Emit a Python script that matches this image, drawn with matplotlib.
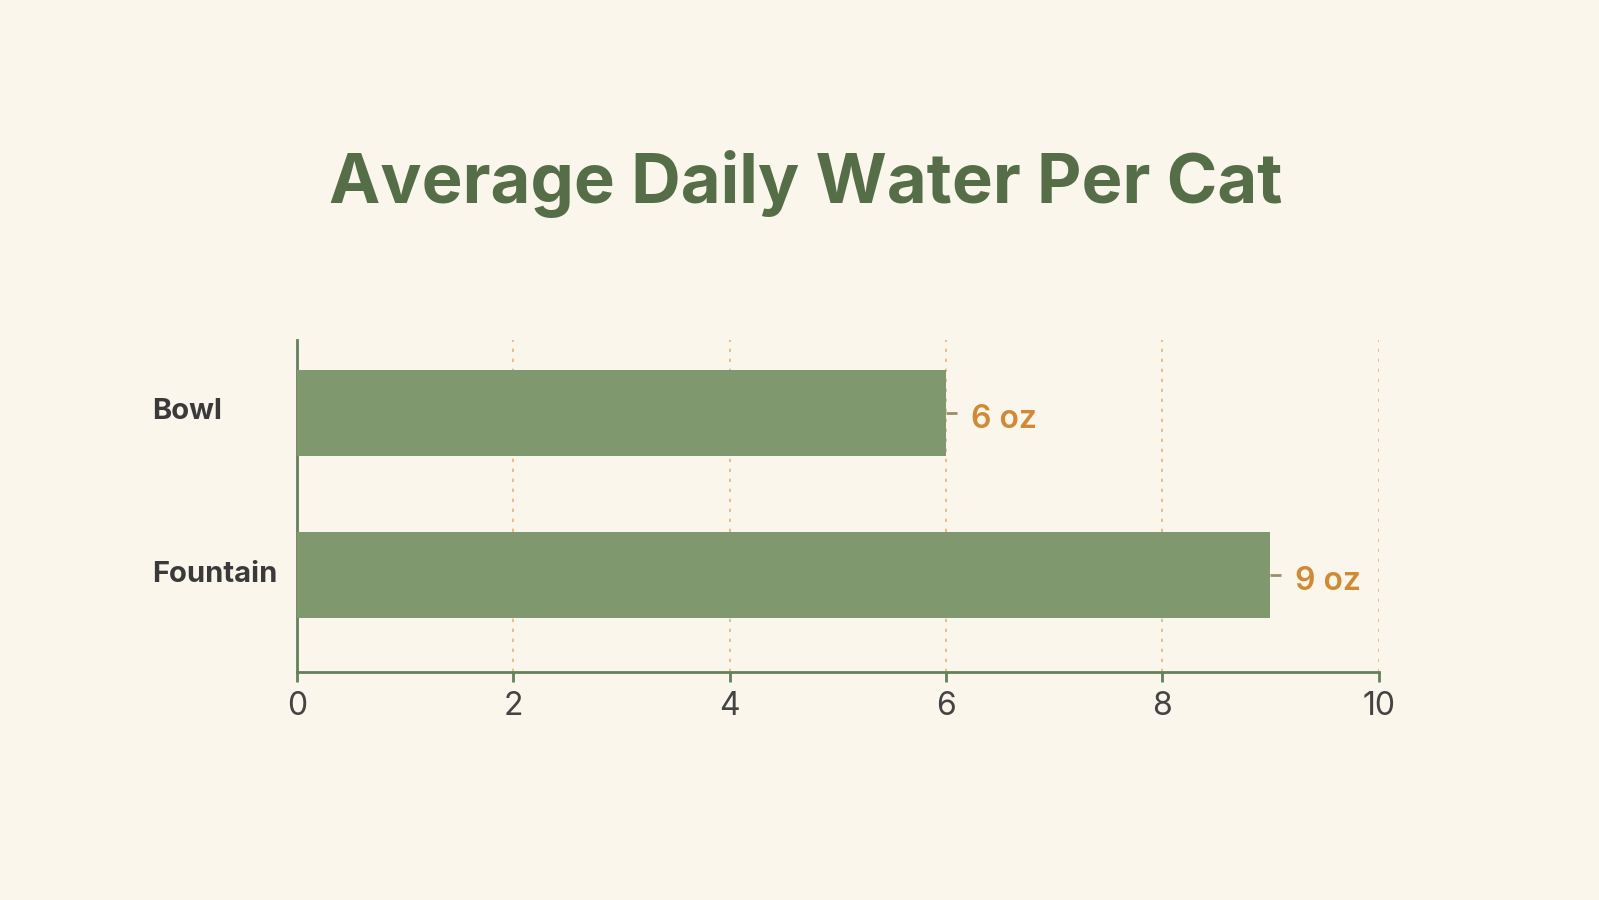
import matplotlib.pyplot as plt
from matplotlib.transforms import ScaledTranslation

categories = ["Bowl", "Fountain"]
values = [6, 9]
value_labels = ["6 oz", "9 oz"]
x_ticks = [0, 2, 4, 6, 8, 10]

bg = "#FBF6EC"
bar_color = "#7F986E"
green_dark = "#566E48"
spine_color = "#64805A"
value_color = "#D08A35"

plt.rcParams['font.family'] = ['Inter', 'DejaVu Sans']

fig = plt.figure(figsize=(15.99, 9), dpi=100, facecolor=bg)
ax = fig.add_axes([0.1856, 0.2528, 0.6766, 0.3696], facecolor=bg)

y = list(range(len(categories)))
ax.barh(y, values, height=0.53, color=bar_color, zorder=3)

# value labels with small connector
for yi, v, lab in zip(y, values, value_labels):
    ax.plot([v, v + 0.1], [yi, yi], color="#9A8E6A", lw=2, zorder=3,
            solid_capstyle='butt')
    ax.text(v + 0.23, yi + 0.04, lab, va='center', ha='left',
            fontsize=23, fontweight='semibold', color=value_color)

ax.set_xlim(0, 10)
ax.set_ylim(1.6, -0.45)
ax.set_xticks(x_ticks)
ax.set_xticklabels([str(t) for t in x_ticks], fontsize=23, color="#444444")
ax.set_yticks(y)
ax.set_yticklabels(categories, fontsize=21, fontweight='bold', color="#3A3A3A",
                   ha='left')
ax.tick_params(axis='y', length=0, pad=104)
ax.tick_params(axis='x', length=7, width=2, color=spine_color, pad=6)

# nudge category labels up a little
shift = ScaledTranslation(0, 4 / 100, fig.dpi_scale_trans)
for t in ax.get_yticklabels():
    t.set_transform(t.get_transform() + shift)

ax.grid(axis='x', color="#E3B57A", linestyle=(0, (2, 4)), lw=1.2, zorder=0)

for s in ['top', 'right']:
    ax.spines[s].set_visible(False)
for s in ['left', 'bottom']:
    ax.spines[s].set_color(spine_color)
    ax.spines[s].set_linewidth(2)

fig.text(0.504, 0.796, "Average Daily Water Per Cat", ha='center', va='center',
         fontsize=49.5, fontweight='bold', color=green_dark)

fig.savefig("out.png", dpi=100, facecolor=bg)
